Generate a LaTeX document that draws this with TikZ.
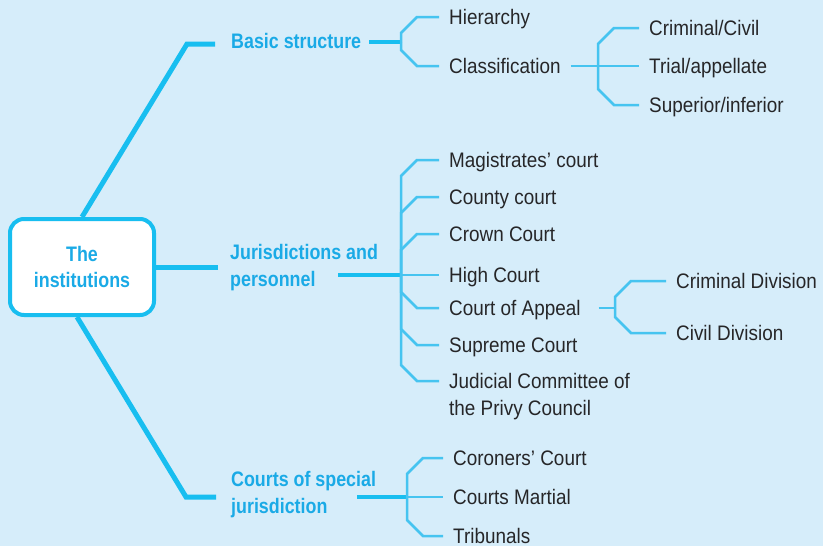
\documentclass[tikz,border=0pt]{standalone}
\usepackage{fontspec}
\setmainfont{Liberation Sans}[FakeStretch=0.9,BoldFeatures={FakeStretch=0.85}]
\usetikzlibrary{calc}

\definecolor{bgblue}{RGB}{214,237,250}
\definecolor{linecyan}{RGB}{24,190,240}
\definecolor{twigcyan}{RGB}{70,196,240}
\definecolor{headblue}{RGB}{26,170,230}
\definecolor{leafgray}{RGB}{38,38,40}

\tikzset{
  trunk/.style={line width=5pt,color=linecyan},
  stub/.style={line width=4.5pt,color=linecyan},
  twig/.style={line width=2.5pt,color=twigcyan},
  head/.style={font=\fontsize{21}{26.5}\selectfont\bfseries,text=headblue,anchor=west,
    inner sep=0pt,align=left,text height=15pt,text depth=0pt},
  leaf/.style={font=\fontsize{21}{27}\selectfont,text=leafgray,anchor=west,
    inner xsep=10pt,inner ysep=0pt,align=left,text height=14pt,text depth=0pt},
  hub/.style={draw=linecyan,line width=4pt,fill=white,rounded corners=14pt,
    minimum width=144pt,minimum height=96pt,align=center,
    font=\fontsize{21}{26}\selectfont\bfseries,text=headblue}
}

\begin{document}
\begin{tikzpicture}[x=1pt,y=-1pt,line join=miter]

\fill[bgblue] (0,0) rectangle (823,546);
\useasboundingbox (0,0) rectangle (823,546);

% centre and main branches (two-line nodes sit on their last line)
\node[hub] (inst) at (82,267) {The\\institutions};
\node[head] (bs) at (231,40.5) {Basic structure};
\node[head] (jp) at (230,278.5) {Jurisdictions and\\personnel};
\node[head] (cs) at (231,505.5) {Courts of special\\jurisdiction};

\coordinate (bs-bend) at (187,44);
\coordinate (bs-end) at (215,44);
\coordinate (jp-end) at (218,267);
\coordinate (cs-bend) at (186,497);
\coordinate (cs-end) at (216,497);

\draw[trunk] (inst.north) -- (bs-bend) -- (bs-end);
\draw[trunk] (inst.east) -- (jp-end);
\draw[trunk] ([xshift=-5pt]inst.south) -- (cs-bend) -- (cs-end);

% knots
\coordinate (bs-out) at (369,42);
\coordinate (bs-knot) at (401,42);
\coordinate (cl-knot) at (598,66);
\coordinate (jp-out) at (338,275);
\coordinate (jp-knot) at (401,275);
\coordinate (ap-knot) at (615,308);
\coordinate (cs-out) at (357,497);
\coordinate (cs-knot) at (407,497);

\draw[stub] (bs-out) -- (bs-knot);
\draw[stub] (jp-out) -- (jp-knot);
\draw[stub] (cs-out) -- (cs-knot);

% leaves
\node[leaf] (hier) at (439,17) {Hierarchy};
\node[leaf] (class) at (439,66) {Classification};
\node[leaf] (crimciv) at (639,28) {Criminal/Civil};
\node[leaf] (trial) at (639,66) {Trial/appellate};
\node[leaf] (supinf) at (639,105) {Superior/inferior};

\node[leaf] (mag) at (439,160) {Magistrates' court};
\node[leaf] (county) at (439,197) {County court};
\node[leaf] (crown) at (439,234) {Crown Court};
\node[leaf] (high) at (439,275) {High Court};
\node[leaf] (appeal) at (439,308) {Court of Appeal};
\node[leaf] (supreme) at (439,345) {Supreme Court};
\node[leaf] (privy) at (439,408) {Judicial Committee of\\the Privy Council};
\coordinate (privy-in) at ([yshift=27pt]privy.west);
\node[leaf] (crimdiv) at (666,281) {Criminal Division};
\node[leaf] (civdiv) at (666,333) {Civil Division};

\node[leaf] (coroner) at (443,458) {Coroners' Court};
\node[leaf] (martial) at (443,497) {Courts Martial};
\node[leaf] (tribunal) at (443,536) {Tribunals};

% brackets
\foreach \k/\n/\d in {bs-knot/hier.west/16,bs-knot/class.west/-16,cl-knot/crimciv.west/16,
  cl-knot/supinf.west/-16,jp-knot/mag.west/16,jp-knot/county.west/16,jp-knot/crown.west/16,
  jp-knot/appeal.west/-16,jp-knot/supreme.west/-16,jp-knot/privy-in/-16,ap-knot/crimdiv.west/16,
  ap-knot/civdiv.west/-16,cs-knot/coroner.west/16,cs-knot/tribunal.west/-16}
  \draw[twig] (\k) -- ($(\k |- \n)+(0,\d)$) -- ($(\k |- \n)+(16,0)$) -- (\n);

\draw[twig] (class.east) -- (cl-knot) -- (trial.west);
\draw[twig] (jp-knot) -- (high.west);
\draw[twig] ([xshift=8pt]appeal.east) -- (ap-knot);
\draw[twig] (cs-knot) -- (martial.west);

\end{tikzpicture}
\end{document}
